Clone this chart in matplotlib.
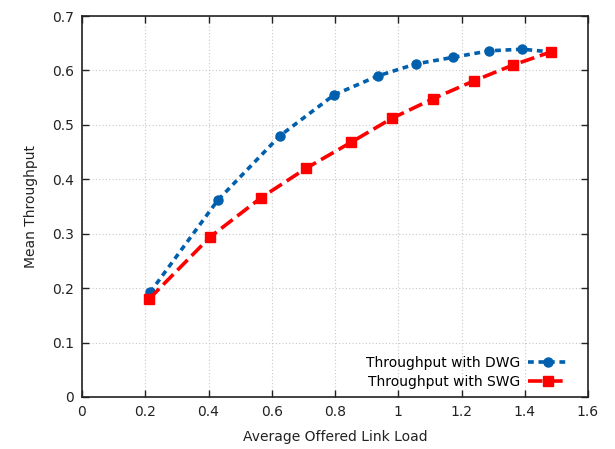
import matplotlib
matplotlib.use("Agg")
import matplotlib.pyplot as plt

# ── Données ──────────────────────────────────────────────────────────────────
dwg_load = [0.215, 0.430, 0.626, 0.797, 0.936, 1.056, 1.173, 1.287, 1.391, 1.483]
dwg_thr  = [0.192, 0.362, 0.480, 0.555, 0.590, 0.612, 0.624, 0.636, 0.639, 0.634]

swg_load = [0.212, 0.405, 0.566, 0.708, 0.851, 0.980, 1.110, 1.240, 1.363, 1.483]
swg_thr  = [0.180, 0.294, 0.366, 0.420, 0.468, 0.512, 0.548, 0.581, 0.610, 0.634]

x_ticks = [0, 0.2, 0.4, 0.6, 0.8, 1.0, 1.2, 1.4, 1.6]
x_tick_labels = ["0", "0.2", "0.4", "0.6", "0.8", "1", "1.2", "1.4", "1.6"]
y_ticks = [0, 0.1, 0.2, 0.3, 0.4, 0.5, 0.6, 0.7]
y_tick_labels = ["0", "0.1", "0.2", "0.3", "0.4", "0.5", "0.6", "0.7"]

fig = plt.figure(figsize=(6.15, 4.49), dpi=100)
ax = fig.add_axes([82 / 615, 1 - 397 / 449, (588 - 82) / 615, (397 - 16) / 449])

ax.plot(dwg_load, dwg_thr, color="#0060ad", linestyle=(0, (1.6, 1.3)),
        linewidth=2.6, marker="o", markersize=6.5, label="Throughput with DWG",
        dash_capstyle="butt")
ax.plot(swg_load, swg_thr, color="#ff0000", linestyle=(0, (4.0, 1.6)),
        linewidth=2.6, marker="s", markersize=6.5, label="Throughput with SWG")

ax.set_xlim(0, 1.6)
ax.set_ylim(0, 0.7)
ax.set_xticks(x_ticks)
ax.set_xticklabels(x_tick_labels)
ax.set_yticks(y_ticks)
ax.set_yticklabels(y_tick_labels)

ax.grid(True, color="#c8c8c8", linestyle=(0, (1, 2)), linewidth=0.8)
ax.tick_params(direction="in", top=True, right=True, length=5, width=1,
               labelsize=10, colors="#222222", pad=6)
for sp in ax.spines.values():
    sp.set_linewidth(1.2)
    sp.set_color("#222222")

ax.set_xlabel("Average Offered Link Load", fontsize=10, color="#222222", labelpad=8)
ax.set_ylabel("Mean Throughput", fontsize=10, color="#222222", labelpad=10)

ax.legend(loc="lower right", bbox_to_anchor=(0.975, 0.0), frameon=False,
          markerfirst=False, fontsize=10, handlelength=2.8, labelspacing=0.35,
          borderaxespad=0.2, handletextpad=0.6)

fig.savefig("out.png", dpi=100)
